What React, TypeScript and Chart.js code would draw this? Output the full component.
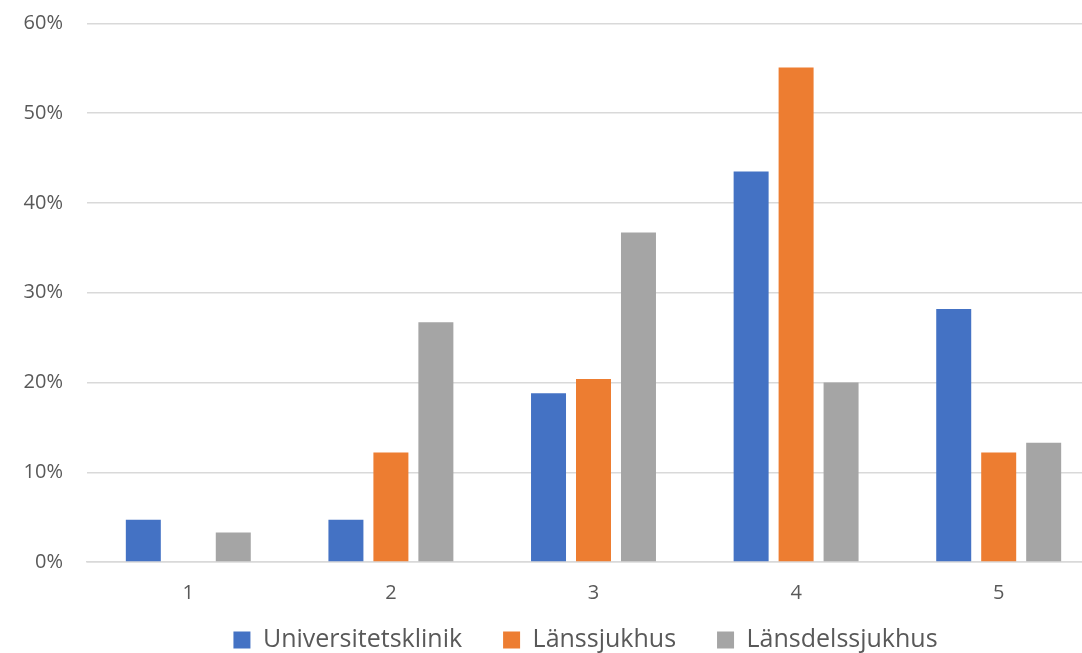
import React, { useEffect, useRef } from "react";
import { Chart, registerables } from "chart.js";

Chart.register(...registerables);

const categories = ["1", "2", "3", "4", "5"];
const universitetsklinik = [4.7, 4.7, 18.8, 43.5, 28.2];
const lanssjukhus = [0, 12.2, 20.4, 55.1, 12.2];
const lansdelssjukhus = [3.3, 26.7, 36.7, 20.0, 13.3];
const seriesNames = ["Universitetsklinik", "Länssjukhus", "Länsdelssjukhus"];
const colors = ["#4472C4", "#ED7D31", "#A5A5A5"];

export default function App() {
  const ref = useRef<HTMLCanvasElement | null>(null);
  useEffect(() => {
    if (!ref.current) return;
    const font = "'Open Sans', 'Noto Sans', sans-serif";
    const legendShift = {
      id: "legendShift",
      beforeDraw(chart: any) {
        const l = chart.legend;
        if (!l) return;
        const h = l.height;
        l.top = 586.5;
        l.bottom = l.top + h;
        const w = l.width;
        l.left = 79;
        l.right = l.left + w;
      },
    };
    const chart = new Chart(ref.current, {
      type: "bar",
      data: {
        labels: categories,
        datasets: [universitetsklinik, lanssjukhus, lansdelssjukhus].map((d, i) => ({
          label: seriesNames[i],
          data: d,
          backgroundColor: colors[i],
          borderWidth: 0,
          categoryPercentage: 0.666,
          barPercentage: 0.778,
        })),
      },
      plugins: [legendShift],
      options: {
        animation: false,
        responsive: false,
        maintainAspectRatio: false,
        layout: { padding: { top: 23.5, left: 0, right: 0, bottom: 0 } },
        plugins: {
          tooltip: { enabled: false },
          legend: {
            position: "bottom",
            fullSize: false,
            labels: {
              boxWidth: 17,
              boxHeight: 17,
              padding: 41,
              color: "#595959",
              font: { family: font, size: 25 },
            },
          },
        },
        scales: {
          x: {
            afterFit: (s: any) => {
              s.height = 48;
            },
            grid: { display: false, drawTicks: false },
            border: { display: true, color: "#D9D9D9", width: 1.5 },
            ticks: { color: "#595959", font: { family: font, size: 20 }, padding: 19 },
          },
          y: {
            min: 0,
            max: 60,
            afterFit: (s: any) => {
              s.width = 87;
              s.paddingTop = 0;
              s.paddingBottom = 0;
            },
            grid: { color: "#D9D9D9", lineWidth: 1.5, drawTicks: false },
            border: { display: false },
            ticks: {
              stepSize: 10,
              color: "#595959",
              padding: 24,
              font: { family: font, size: 20 },
              callback: (v: any) => v + "%",
            },
          },
        },
      },
    });
    return () => chart.destroy();
  }, []);
  return (
    <div style={{ position: "fixed", left: 0, top: 0, width: 1082, height: 653, overflow: "hidden", background: "#fff" }}>
      <canvas ref={ref} width={1100} height={686} style={{ display: "block" }} />
    </div>
  );
}
